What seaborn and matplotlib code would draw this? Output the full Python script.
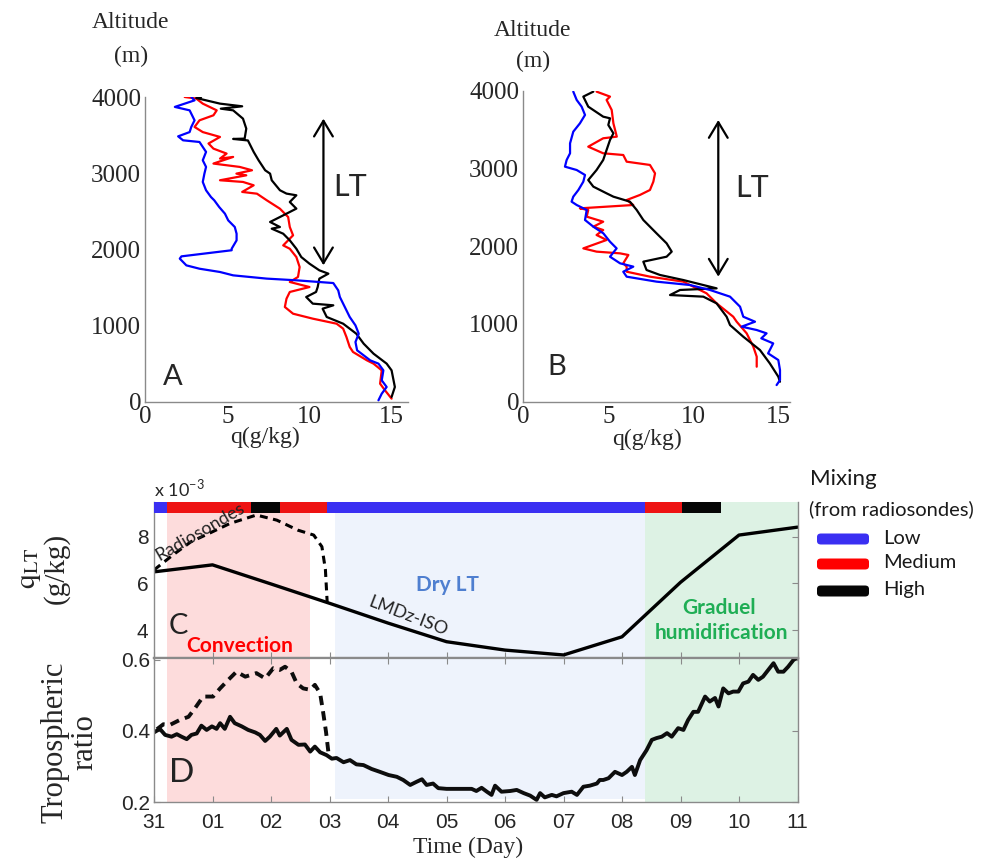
import numpy as np
import pandas as pd
import matplotlib
matplotlib.use("Agg")
import matplotlib.pyplot as plt
import seaborn as sns
from matplotlib import font_manager
from matplotlib.patches import FancyBboxPatch

# ---------------- data ----------------
# Panel A profiles (q in g/kg, altitude in m)
qA_low = [2.8, 3.0, 1.8, 2.7, 3.0, 2.8, 2.7, 2.0, 2.3, 3.3, 3.5, 3.7, 3.5, 3.7, 3.6, 3.5, 3.7, 4.0, 4.2, 4.5,
          4.85, 5.05, 5.45, 5.56, 5.56, 5.26, 5.26, 2.2, 2.1, 2.5, 3.3, 4.55, 5.35, 7.4, 9.2, 11.45, 11.75, 11.85,
          12.15, 12.45, 12.8, 13.0, 12.8, 12.9, 13.7, 14.2, 14.5, 14.4, 14.7, 14.4, 14.2]
zA_low = [4000, 3956, 3870, 3825, 3694, 3607, 3540, 3484, 3432, 3410, 3345, 3280, 3170, 3083, 2995, 2886, 2777,
          2688, 2645, 2557, 2470, 2382, 2295, 2207, 2120, 2010, 1990, 1910, 1880, 1792, 1748, 1705, 1661, 1618,
          1596, 1560, 1464, 1377, 1246, 1115, 1005, 896, 787, 678, 546, 503, 415, 284, 197, 109, 22]
qA_med = [2.4, 3.1, 3.5, 4.35, 4.15, 3.3, 3.0, 3.5, 4.55, 3.85, 4.15, 4.95, 4.55, 5.35, 4.15, 5.75, 6.5, 5.55,
          6.15, 4.55, 5.95, 6.6, 5.9, 6.8, 7.4, 8.2, 8.7, 8.8, 9.0, 8.4, 8.8, 9.2, 9.4, 9.3, 8.8, 10.0, 8.8, 8.6,
          8.5, 9.0, 10.2, 11.65, 12.05, 12.25, 12.45, 12.65, 13.5, 13.9, 14.4, 14.3, 14.6, 15.0]
zA_med = [4000, 3980, 3913, 3825, 3760, 3694, 3607, 3540, 3476, 3390, 3323, 3258, 3192, 3214, 3127, 3083, 3039,
          2995, 2973, 2908, 2886, 2842, 2755, 2732, 2645, 2535, 2426, 2295, 2186, 2054, 2010, 1901, 1770, 1640,
          1574, 1508, 1443, 1355, 1246, 1158, 1093, 1027, 962, 853, 722, 656, 546, 503, 415, 240, 153, 44]
qA_high = [3.4, 3.1, 4.55, 5.9, 4.6, 5.35, 5.95, 6.15, 6.05, 5.35, 6.25, 6.6, 6.9, 7.3, 7.6, 7.7, 8.2, 8.6, 9.2,
           8.8, 9.2, 8.2, 7.6, 8.2, 7.7, 8.4, 8.8, 9.2, 9.5, 10.0, 10.6, 11.15, 10.6, 10.5, 10.4, 9.8, 10.2, 11.45,
           10.8, 11.05, 12.05, 12.85, 13.3, 13.9, 14.7, 15.0, 15.2, 15.0]
zA_high = [4000, 3987, 3913, 3878, 3847, 3825, 3716, 3585, 3454, 3450, 3430, 3280, 3170, 3039, 2995, 2908, 2777,
           2733, 2711, 2623, 2536, 2426, 2361, 2295, 2273, 2207, 2120, 2010, 1901, 1814, 1727, 1683, 1618, 1508,
           1443, 1377, 1290, 1268, 1224, 1115, 1027, 896, 765, 634, 503, 415, 197, 66]

# Panel B profiles
qB_low = [2.94, 3.14, 3.43, 3.63, 3.33, 2.94, 2.75, 2.75, 2.55, 2.45, 3.14, 3.63, 3.53, 3.24, 2.94, 2.84, 3.14,
          3.73, 3.63, 4.12, 4.71, 5.1, 5.49, 5.1, 5.69, 6.47, 5.88, 6.08, 7.84, 9.8, 10.98, 12.16, 12.75, 12.94,
          13.63, 12.84, 13.73, 14.31, 14.0, 14.7, 14.4, 15.0, 15.1, 15.1, 14.9]
zB_low = [3988, 3881, 3795, 3688, 3580, 3473, 3323, 3195, 3109, 3023, 2980, 2916, 2830, 2723, 2637, 2573, 2530,
          2466, 2337, 2251, 2165, 2058, 1972, 1865, 1780, 1737, 1672, 1608, 1544, 1501, 1437, 1351, 1222, 1093,
          1029, 965, 922, 879, 815, 750, 622, 536, 407, 279, 214]
qB_med = [4.31, 5.1, 4.9, 5.2, 5.3, 5.5, 4.7, 3.82, 4.7, 5.88, 6.08, 7.45, 7.75, 7.65, 7.45, 6.86, 6.08, 6.47,
          3.33, 3.82, 3.73, 4.7, 4.12, 4.7, 4.31, 4.9, 3.53, 4.31, 5.69, 6.18, 5.88, 6.08, 6.08, 7.45, 9.41, 10.78,
          11.37, 12.35, 12.55, 13.14, 13.53, 13.73, 13.73]
zB_med = [3988, 3924, 3881, 3752, 3580, 3409, 3388, 3280, 3195, 3173, 3087, 3045, 2937, 2830, 2723, 2659, 2594,
          2530, 2487, 2466, 2380, 2315, 2251, 2208, 2144, 2080, 1972, 1930, 1908, 1887, 1780, 1737, 1672, 1608,
          1544, 1394, 1265, 1093, 1029, 879, 708, 579, 450]
qB_high = [4.12, 3.53, 3.82, 4.7, 5.1, 5.0, 5.3, 5.1, 4.9, 4.7, 4.31, 3.82, 4.12, 4.9, 5.3, 6.27, 6.67, 7.06,
           7.84, 8.43, 8.73, 8.43, 7.06, 7.25, 8.04, 9.41, 11.37, 9.22, 8.63, 10.59, 11.37, 11.96, 12.16, 12.94,
           13.92, 14.5, 15.0, 15.1]
zB_high = [3988, 3924, 3795, 3666, 3645, 3559, 3452, 3366, 3238, 3109, 2980, 2851, 2766, 2680, 2637, 2573, 2466,
           2337, 2165, 2037, 1930, 1865, 1801, 1694, 1630, 1565, 1458, 1437, 1372, 1351, 1265, 1093, 986, 836,
           665, 493, 322, 257]

# LT layer arrows (q position, bottom, top) for A and B
lt_A = [10.85, 1793, 3716]
lt_B = [11.47, 1608, 3623]

# Panel C: q_LT (kg/kg) vs time (days since 31)
day_lmdz = [0, 1, 2, 3, 4, 5, 6, 7, 8, 9, 10, 11]
qlt_lmdz = [6.5e-3, 6.8e-3, 5.98e-3, 5.15e-3, 4.3e-3, 3.5e-3, 3.14e-3, 2.93e-3, 3.71e-3, 6.05e-3, 8.08e-3, 8.42e-3]
day_sonde = [0, 0.32, 0.63, 0.94, 1.30, 1.75, 2.10, 2.46, 2.73, 2.87, 2.93, 2.96]
qlt_sonde = [6.58e-3, 7.22e-3, 7.79e-3, 8.15e-3, 8.58e-3, 8.94e-3, 8.72e-3, 8.29e-3, 8.08e-3, 7.58e-3,
             6.6e-3, 5.21e-3]

# Mixing classes from radiosondes (start day, end day, class)
mix_start = [0.0, 0.23, 1.66, 2.15, 2.96, 8.39, 9.03]
mix_end = [0.23, 1.66, 2.15, 2.96, 8.39, 9.03, 9.70]
mix_class = ["Low", "Medium", "High", "Medium", "Low", "Medium", "High"]

# Panel D: tropospheric ratio
day_ratio = [0.0, 0.10, 0.19, 0.30, 0.39, 0.47, 0.56, 0.64, 0.73, 0.81, 0.90, 0.99, 1.07, 1.13, 1.21, 1.30, 1.38,
             1.50, 1.61, 1.73, 1.81, 1.90, 1.98, 2.09, 2.15, 2.27, 2.35, 2.47, 2.58, 2.67, 2.75, 2.84, 2.95, 3.04,
             3.12, 3.24, 3.35, 3.46, 3.58, 3.72, 3.86, 4.01, 4.15, 4.26, 4.38, 4.49, 4.58, 4.66, 4.77, 4.86, 5.00,
             5.17, 5.43, 5.51, 5.60, 5.69, 5.77, 5.83, 5.94, 6.09, 6.20, 6.32, 6.43, 6.54, 6.60, 6.68, 6.80, 6.88,
             7.00, 7.14, 7.23, 7.34, 7.45, 7.57, 7.62, 7.68, 7.77, 7.88, 8.00, 8.08, 8.17, 8.22, 8.31, 8.42, 8.51,
             8.59, 8.68, 8.77, 8.85, 8.96, 9.05, 9.13, 9.22, 9.30, 9.42, 9.50, 9.59, 9.65, 9.73, 9.82, 9.90, 9.99,
             10.07, 10.16, 10.24, 10.33, 10.41, 10.50, 10.59, 10.67, 10.76, 10.84, 10.93, 11.0]
ratio_lmdz = [0.396, 0.406, 0.389, 0.384, 0.391, 0.384, 0.377, 0.389, 0.393, 0.415, 0.403, 0.413, 0.406, 0.422,
              0.406, 0.440, 0.422, 0.413, 0.403, 0.396, 0.389, 0.372, 0.384, 0.406, 0.387, 0.406, 0.375, 0.361,
              0.362, 0.342, 0.356, 0.340, 0.332, 0.322, 0.324, 0.312, 0.318, 0.306, 0.304, 0.293, 0.285, 0.276,
              0.271, 0.262, 0.248, 0.257, 0.264, 0.248, 0.252, 0.239, 0.237, 0.237, 0.237, 0.231, 0.240, 0.229,
              0.220, 0.246, 0.229, 0.231, 0.234, 0.225, 0.218, 0.206, 0.225, 0.213, 0.220, 0.216, 0.225, 0.229,
              0.220, 0.243, 0.246, 0.252, 0.262, 0.262, 0.267, 0.285, 0.276, 0.285, 0.299, 0.276, 0.318, 0.346,
              0.375, 0.380, 0.384, 0.394, 0.384, 0.408, 0.403, 0.431, 0.454, 0.454, 0.497, 0.483, 0.493, 0.469,
              0.520, 0.506, 0.511, 0.511, 0.534, 0.539, 0.558, 0.544, 0.553, 0.572, 0.591, 0.567, 0.567, 0.581,
              0.600, 0.608]
day_ratio_sonde = [0.05, 0.16, 0.27, 0.44, 0.59, 0.70, 0.84, 1.01, 1.13, 1.27, 1.41, 1.56, 1.75, 1.90, 2.04, 2.15,
                   2.24, 2.35, 2.44, 2.55, 2.67, 2.75, 2.84, 2.89, 2.94, 2.98, 3.0]
ratio_sonde = [0.405, 0.419, 0.417, 0.431, 0.440, 0.464, 0.497, 0.497, 0.520, 0.544, 0.567, 0.553, 0.563, 0.548,
               0.577, 0.572, 0.581, 0.567, 0.534, 0.520, 0.516, 0.530, 0.506, 0.454, 0.398, 0.342, 0.332]

day_ticks = list(range(12))
day_labels = ["31", "01", "02", "03", "04", "05", "06", "07", "08", "09", "10", "11"]

# Regimes (start, end)
regime_convection = [0.23, 2.67]
regime_dry = [3.09, 8.39]
regime_humid = [8.39, 11.0]

# ---------------- style ----------------
sns.set_theme(style="white")
plt.rcParams['font.family'] = ['Liberation Serif', 'DejaVu Serif']
plt.rcParams['mathtext.fontset'] = 'stix'


def pick(*names):
    for n in names:
        try:
            font_manager.findfont(font_manager.FontProperties(family=n), fallback_to_default=False)
            return n
        except Exception:
            pass
    return 'DejaVu Sans'


NARROW = pick('Liberation Sans Narrow', 'Liberation Sans')
CAL = pick('Lato', 'Open Sans', 'Noto Sans')
SERIF = pick('Liberation Serif', 'DejaVu Serif')

line_pal = {"Low": "#0000ff", "Medium": "#ff0000", "High": "#000000"}
bar_pal = {"Low": "#3a2ff2", "Medium": "#ee1313", "High": "#060606"}
PINK, LBLUE, LGREEN = "#fddcdc", "#eef3fc", "#ddf2e4"
SPINE = "#8a8a8a"

W, H = 992, 860
fig = plt.figure(figsize=(W / 100, H / 100), dpi=100)


def fx(px):
    return px / W


def fy(py):
    return 1 - py / H


def T(px, py, s, **kw):
    kw.setdefault('ha', 'center')
    kw.setdefault('va', 'center')
    return fig.text(fx(px), fy(py), s, **kw)


def profile_df(ql, zl, qm, zm, qh, zh):
    return pd.concat([
        pd.DataFrame({"q": qm, "z": zm, "mix": "Medium"}),
        pd.DataFrame({"q": qh, "z": zh, "mix": "High"}),
        pd.DataFrame({"q": ql, "z": zl, "mix": "Low"}),
    ], ignore_index=True)


def profile_axes(rect, df, xmax, lt):
    ax = fig.add_axes(rect)
    sns.lineplot(data=df, x="q", y="z", hue="mix", palette=line_pal,
                 hue_order=["Medium", "High", "Low"], sort=False, estimator=None,
                 lw=1.6, legend=False, ax=ax)
    ax.set_xlim(0, xmax)
    ax.set_ylim(0, 4000)
    ax.set_xlabel("")
    ax.set_ylabel("")
    ax.set_xticks([0, 5, 10, 15], ["0", "5", "10", "15"], fontsize=18, fontfamily=SERIF)
    ax.set_yticks([0, 1000, 2000, 3000, 4000], ["0", "1000", "2000", "3000", "4000"],
                  fontsize=18, fontfamily=SERIF)
    ax.tick_params(direction='in', length=3, width=0.8, color=SPINE, pad=3)
    sns.despine(ax=ax)
    for s in ("left", "bottom"):
        ax.spines[s].set_color(SPINE)
        ax.spines[s].set_linewidth(1.0)
    ax.patch.set_alpha(0)
    ax.annotate("", xy=(lt[0], lt[2]), xytext=(lt[0], lt[1]),
                arrowprops=dict(arrowstyle="<->,head_length=0.75,head_width=0.45",
                                lw=1.6, color="black", mutation_scale=15,
                                shrinkA=0, shrinkB=0))
    return ax


dfA = profile_df(qA_low, zA_low, qA_med, zA_med, qA_high, zA_high)
dfB = profile_df(qB_low, zB_low, qB_med, zB_med, qB_high, zB_high)

axA = profile_axes([fx(145.3), fy(402), (408 - 145.3) / W, (402 - 97) / H], dfA, 16, lt_A)
axB = profile_axes([fx(523.3), fy(401.7), 15.7 * 17 / W, (401.7 - 90.7) / H], dfB, 15.7, lt_B)

# Labels for A / B
for cx, y1, y2, qx, qy in [(131, 23, 56, 265, 437), (533, 30, 61, 647, 439)]:
    T(cx, y1, "Altitude", fontsize=17, fontfamily=SERIF)
    T(cx, y2, "(m)", fontsize=17, fontfamily=SERIF)
    T(qx, qy, "q(g/kg)", fontsize=17, fontfamily=SERIF)
T(350, 187, "LT", fontsize=22, fontfamily=CAL)
T(752, 188, "LT", fontsize=22, fontfamily=CAL)
T(173, 377, "A", fontsize=21, fontfamily=CAL)
T(557, 367, "B", fontsize=21, fontfamily=CAL)

# ---------------- panels C and D ----------------
axC = fig.add_axes([fx(154), fy(658), (797.5 - 154) / W, (658 - 502) / H])
axD = fig.add_axes([fx(154), fy(802), (797.5 - 154) / W, (802 - 658) / H], sharex=axC)

for ax, ymin in ((axC, 0.0), (axD, 0.0)):
    ax.axvspan(*regime_convection, color=PINK, lw=0, zorder=0)
    ax.axvspan(*regime_humid, color=LGREEN, lw=0, zorder=0)
axC.axvspan(*regime_dry, color=LBLUE, lw=0, zorder=0)
axD.axvspan(*regime_dry, ymin=0.02, color=LBLUE, lw=0, zorder=0)

sns.lineplot(x=day_lmdz, y=qlt_lmdz, color="black", lw=2.4, ax=axC, estimator=None, sort=False)
sns.lineplot(x=day_sonde, y=qlt_sonde, color="black", lw=2.2, ax=axC, estimator=None, sort=False,
             linestyle=(0, (2.6, 1.8)))
# mixing bar
for cls in ["Low", "Medium", "High"]:
    segs = [(s, e - s) for s, e, c in zip(mix_start, mix_end, mix_class) if c == cls]
    axC.broken_barh(segs, (9.03e-3, 0.5e-3), facecolors=bar_pal[cls], lw=0, zorder=5)

axC.set_xlim(0, 11)
axC.set_ylim(2.8e-3, 9.5e-3)
axC.set_yticks([4e-3, 6e-3, 8e-3], ["4", "6", "8"], fontsize=15, fontfamily=NARROW)
axC.tick_params(axis='x', labelbottom=False)
axC.tick_params(direction='in', length=4, width=0.8, color=SPINE, right=True, bottom=True, pad=4)
axC.set_xlabel("")
axC.set_ylabel("")

sns.lineplot(x=day_ratio, y=ratio_lmdz, color="#0d0d0d", lw=2.8, ax=axD, estimator=None, sort=False)
sns.lineplot(x=day_ratio_sonde, y=ratio_sonde, color="#0d0d0d", lw=2.8, ax=axD, estimator=None, sort=False,
             linestyle=(0, (2.4, 1.6)))
axD.set_ylim(0.2, 0.6056)
axD.set_xlim(0, 11)
axD.set_xticks(day_ticks, day_labels, fontsize=15, fontfamily=NARROW)
axD.set_yticks([0.2, 0.4, 0.6], ["0.2", "0.4", "0.6"], fontsize=15, fontfamily=NARROW)
axD.tick_params(direction='in', length=4, width=0.8, color=SPINE, right=True, top=True, bottom=True, left=True,
                pad=3)
axD.tick_params(axis='x', pad=8)
axD.set_xlabel("")
axD.set_ylabel("")

for ax in (axC, axD):
    for s in ax.spines.values():
        s.set_color(SPINE)
        s.set_linewidth(1.0)
axC.spines['top'].set_visible(False)
axC.spines['bottom'].set_linewidth(1.6)
axD.spines['top'].set_linewidth(1.6)

# texts in C / D
fig.text(fx(154), fy(497), "x 10$^{\\mathregular{-3}}$", fontsize=13, fontfamily=CAL, ha='left', va='baseline')
T(200, 532, "Radiosondes", fontsize=13, fontfamily=CAL, rotation=30, color="#222222")
T(408, 616, "LMDz-ISO", fontsize=13, fontfamily=CAL, rotation=-21, color="#222222")
T(447, 585, "Dry LT", fontsize=15, fontfamily=CAL, color="#4f7fd0", fontweight='bold')
T(719, 608, "Graduel", fontsize=15, fontfamily=CAL, color="#1fae55", fontweight='bold')
T(722, 633, "humidification", fontsize=15, fontfamily=CAL, color="#1fae55", fontweight='bold')
T(240, 646, "Convection", fontsize=15, fontfamily=CAL, color="#ff0000", fontweight='bold')
T(178, 626, "C", fontsize=21, fontfamily=CAL, color="#222222")
T(182, 773, "D", fontsize=24, fontfamily=CAL, color="#222222")

T(43, 568, "$\\mathrm{q_{LT}}$\n(g/kg)", fontsize=21, fontfamily=SERIF, rotation=90, linespacing=1.0)
T(70, 742, "Tropospheric\nratio", fontsize=22, fontfamily=SERIF, rotation=90, linespacing=1.0)
T(468, 847, "Time (Day)", fontsize=17, fontfamily=SERIF)

# ---------------- legend ----------------
T(810, 479, "Mixing", fontsize=16, fontfamily=CAL, ha='left', color="#1a1a1a")
T(809, 509, "(from radiosondes)", fontsize=14.5, fontfamily=CAL, ha='left', color="#1a1a1a")
for cls, yc in zip(["Low", "Medium", "High"], [539, 564, 591]):
    patch = FancyBboxPatch((fx(817), fy(yc + 5.5)), (869 - 817) / W, 11 / H,
                           boxstyle="round,pad=0,rounding_size=0.004",
                           transform=fig.transFigure, facecolor=bar_pal[cls] if cls != "Medium" else "#ff0000",
                           edgecolor="none")
    fig.patches.append(patch)
    T(883, yc - 1, cls, fontsize=14.5, fontfamily=CAL, ha='left', color="#1a1a1a")

fig.savefig("out.png", dpi=100)
